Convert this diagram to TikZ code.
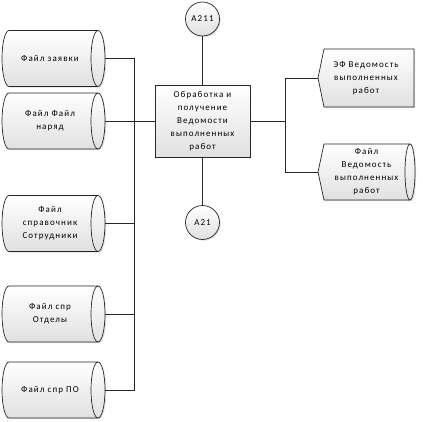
\documentclass[tikz,border=0pt]{standalone}
\usepackage{fontspec}
\newfontfamily\lab[LetterSpace=12]{Carlito}
\usetikzlibrary{shadows}

\tikzset{
  shapefill/.style={draw=black!85, line width=0.7pt, top color=white, bottom color=black!12,
    drop shadow={shadow xshift=1.2pt, shadow yshift=-1.2pt, opacity=0.25}},
  lbl/.style={font={\lab\fontsize{9}{13}\selectfont}, align=center, text=black, inner sep=0pt},
  store/.style={lbl, minimum width=110pt, minimum height=56pt},
  procbox/.style={lbl, shapefill, rectangle, minimum width=95pt, minimum height=72pt},
  refcirc/.style={lbl, shapefill, circle, minimum size=34pt},
  conn/.style={draw=black!85, line width=0.75pt},
}

% data store drawn on the left, y = centre
\newcommand{\leftstore}[1]{%
  \draw[shapefill] (9,#1+28) -- (98,#1+28) arc[start angle=90, end angle=-90, x radius=7, y radius=28]
    -- (9,#1-28) arc[start angle=270, end angle=90, x radius=7, y radius=28] -- cycle;
  \draw[draw=black!85, line width=0.7pt] (98,#1+28) arc[start angle=90, end angle=270, x radius=7, y radius=28];}

\begin{document}
\begin{tikzpicture}[x=1pt, y=1pt]
    \useasboundingbox (0,0) rectangle (423,421);

    % input files
    \leftstore{362.5}
    \leftstore{300}
    \leftstore{197.5}
    \leftstore{107}
    \leftstore{31}
    \node[store] (fzayavki) at (50,362.5) {Файл заявки};
    \node[store] (fnaryad) at (50,300) {Файл Файл\\наряд};
    \node[store] (fsotr) at (50,197.5) {Файл\\справочник\\Сотрудники};
    \node[store] (fotdely) at (50,107) {Файл спр\\Отделы};
    \node[store] (fpo) at (50,31) {Файл спр ПО};

    % process and references
    \node[procbox] (proc) at (202.5,300) {Обработка и\\получение\\Ведомости\\выполненных\\работ};
    \node[refcirc] (a211) at (202.5,402) {A211};
    \node[refcirc] (a21) at (202.5,198.5) {A21};

    % outputs
    \draw[shapefill] (324,372) -- (414,372) -- (414,314) -- (324,314) -- (318,343) -- cycle;
    \draw[shapefill] (324,277) -- (410,277) arc[start angle=90, end angle=-90, x radius=5, y radius=28]
      -- (324,221) -- (318,249) -- cycle;
    \draw[draw=black!85, line width=0.7pt] (410,277) arc[start angle=90, end angle=270, x radius=5, y radius=28];
    \node[lbl, minimum width=96pt, minimum height=58pt] (efved) at (366,343) {ЭФ Ведомость\\выполненных\\работ};
    \node[lbl, minimum width=97pt, minimum height=56pt] (fved) at (366.5,249) {Файл\\Ведомость\\выполненных\\работ};

    % connectors
    \coordinate (lbus) at (134,0);
    \coordinate (rbus) at (285,0);
    \draw[conn] (fzayavki.east) -- (fzayavki.east -| lbus) -- (fpo.east -| lbus) -- (fpo.east);
    \draw[conn] (fnaryad.east) -- (proc.west);
    \foreach \f in {fsotr, fotdely}
        \draw[conn] (\f.east) -- (\f.east -| lbus);
    \draw[conn] (a211) -- (proc);
    \draw[conn] (proc) -- (a21);
    \draw[conn] (proc.east) -- (proc.east -| rbus);
    \draw[conn] (efved.west) -- (efved.west -| rbus) -- (fved.west -| rbus) -- (fved.west);
\end{tikzpicture}
\end{document}
